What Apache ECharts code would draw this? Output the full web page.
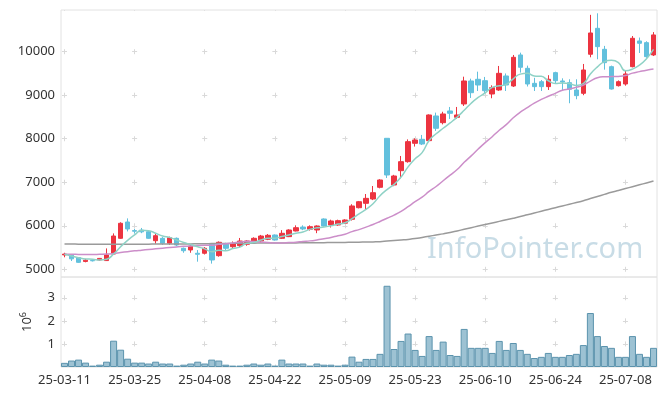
<!DOCTYPE html>
<html><head><meta charset="utf-8">
<script src="https://cdn.jsdelivr.net/npm/echarts@6/dist/echarts.min.js"></script>
<style>html,body{margin:0;padding:0;background:#fff}#c{width:665px;height:396px}</style>
</head><body><div id="c"></div>
<script>
const dates = [
'25-03-11','25-03-12','25-03-13','25-03-14','25-03-17','25-03-18','25-03-19','25-03-20','25-03-21','25-03-24',
'25-03-25','25-03-26','25-03-27','25-03-28','25-03-31','25-04-01','25-04-02','25-04-03','25-04-04','25-04-07',
'25-04-08','25-04-09','25-04-10','25-04-11','25-04-14','25-04-15','25-04-16','25-04-17','25-04-18','25-04-21',
'25-04-22','25-04-23','25-04-24','25-04-25','25-04-28','25-04-29','25-04-30','25-05-02','25-05-07','25-05-08',
'25-05-09','25-05-12','25-05-13','25-05-14','25-05-15','25-05-16','25-05-19','25-05-20','25-05-21','25-05-22',
'25-05-23','25-05-26','25-05-27','25-05-28','25-05-29','25-05-30','25-06-02','25-06-04','25-06-05','25-06-09',
'25-06-10','25-06-11','25-06-12','25-06-13','25-06-16','25-06-17','25-06-18','25-06-19','25-06-20','25-06-23',
'25-06-24','25-06-25','25-06-26','25-06-27','25-06-30','25-07-01','25-07-02','25-07-03','25-07-04','25-07-07',
'25-07-08','25-07-09','25-07-10','25-07-11','25-07-14'];

const opens = [
5330,5330,5270,5180,5205,5215,5200,5350,5712,6087,
5890,5900,5864,5657,5712,5600,5712,5483,5444,5368,
5368,5575,5313,5575,5519,5543,5575,5635,5650,5689,
5788,5712,5750,5880,5971,5919,5903,6156,6018,6018,
6060,6149,6415,6516,6615,6884,8010,6937,7266,7473,
7895,7987,7956,8523,8369,8638,8492,8799,9327,9366,
9334,9028,9120,9442,9212,9925,9618,9273,9311,9197,
9519,9327,9288,9120,9044,9941,10537,10055,9656,9219,
9258,9656,10247,10208,9925];

const closes = [
5350,5240,5160,5210,5195,5250,5330,5765,6057,5926,
5875,5860,5712,5772,5597,5726,5558,5427,5535,5345,
5483,5214,5621,5483,5581,5650,5650,5712,5765,5781,
5673,5827,5903,5956,5926,5979,5995,5995,6110,6117,
6133,6455,6553,6630,6760,7052,7167,7144,7473,7933,
7971,7879,8546,8240,8569,8584,8546,9327,9058,9235,
9104,9173,9503,9235,9871,9642,9258,9197,9197,9366,
9334,9304,9136,8990,9580,10430,10116,9748,9143,9311,
9488,10308,10193,9886,10385];

const lows = [
5276,5190,5150,5160,5180,5200,5195,5330,5700,5870,
5820,5830,5700,5588,5560,5560,5530,5380,5380,5175,
5340,5130,5290,5440,5490,5510,5540,5610,5610,5670,
5660,5700,5740,5870,5900,5890,5830,5980,5960,6000,
6040,6120,6400,6379,6590,6860,7098,6910,7090,7450,
7820,7855,7930,8180,8330,8455,8455,8753,8937,9097,
9050,8930,9100,9097,9190,9520,9200,9097,9097,9120,
9280,9120,8815,8907,9000,9871,9826,9587,9130,9200,
9219,9640,9970,9860,9900];

const highs = [
5380,5350,5280,5240,5220,5260,5480,5825,6080,6170,
5930,5950,5880,5818,5740,5750,5730,5500,5560,5443,
5510,5598,5640,5610,5640,5720,5670,5735,5790,5810,
5800,5900,5920,6010,6010,6010,6010,6170,6140,6140,
6150,6495,6570,6730,6914,7070,8010,7170,7604,7985,
8010,8087,8560,8600,8620,8730,8730,9426,9380,9541,
9420,9227,9672,9500,9925,9978,9680,9400,9350,9460,
9540,9388,9366,9366,9718,10847,10882,10133,9680,9340,
9580,10360,10325,10240,10450];

const ma5 = [
5345,5306,5267,5237,5231,5211,5229,5350,5519,5666,
5791,5897,5886,5829,5763,5733,5673,5616,5569,5518,
5470,5401,5440,5429,5476,5510,5597,5615,5672,5712,
5716,5752,5790,5828,5857,5918,5952,5970,6001,6039,
6070,6162,6274,6378,6506,6690,6832,6951,7119,7354,
7538,7680,7960,8114,8241,8364,8497,8653,8817,8950,
9054,9179,9215,9250,9377,9485,9502,9441,9433,9332,
9270,9280,9267,9226,9269,9488,9650,9773,9803,9750,
9561,9600,9689,9837,10052];

const ma20 = [
5345,5345,5342,5340,5340,5345,5350,5365,5385,5405,
5425,5440,5455,5470,5485,5500,5515,5528,5538,5545,
5551,5550,5573,5587,5606,5626,5642,5639,5625,5617,
5607,5606,5615,5624,5641,5653,5675,5704,5732,5771,
5804,5866,5912,5970,6029,6099,6174,6246,6331,6439,
6554,6657,6789,6903,7035,7165,7293,7459,7607,7763,
7911,8047,8195,8325,8481,8610,8715,8817,8903,8975,
9043,9114,9144,9181,9232,9324,9403,9424,9428,9432,
9451,9508,9542,9575,9601];

const maLong = [
5580,5579,5578,5577,5576,5576,5575,5575,5575,5575,
5576,5577,5578,5579,5580,5581,5582,5583,5584,5586,
5588,5590,5592,5594,5596,5598,5600,5601,5602,5603,
5604,5605,5606,5607,5608,5609,5610,5612,5614,5616,
5618,5620,5623,5626,5630,5635,5648,5661,5674,5687,
5705,5732,5760,5787,5814,5845,5882,5919,5956,5993,
6029,6065,6101,6137,6173,6211,6252,6293,6334,6375,
6415,6455,6495,6535,6577,6625,6673,6721,6769,6812,
6855,6898,6941,6985,7029];

const volume = [
0.18,0.28,0.32,0.19,0.06,0.10,0.23,1.14,0.75,0.36,
0.19,0.19,0.15,0.23,0.15,0.15,0.06,0.10,0.15,0.23,
0.15,0.32,0.28,0.10,0.06,0.06,0.10,0.15,0.10,0.15,
0.06,0.32,0.15,0.15,0.15,0.06,0.15,0.10,0.10,0.06,
0.10,0.45,0.23,0.35,0.35,0.57,3.52,0.78,1.13,1.45,
0.74,0.48,1.34,0.74,1.10,0.52,0.48,1.65,0.83,0.83,
0.83,0.61,1.13,0.74,1.04,0.74,0.57,0.39,0.44,0.61,
0.44,0.44,0.52,0.57,0.95,2.34,1.34,0.91,0.83,0.44,
0.44,1.34,0.57,0.44,0.83];

const candles = dates.map((d, i) => [opens[i], closes[i], lows[i], highs[i]]);

// layout / style constants
const FONT = 'Noto Sans';
const G_LEFT = 61, G_W = 596;
const P_TOP = 10, P_H = 267, P_MIN = 4823, P_MAX = 10958;
const V_TOP = 277, V_H = 90, V_MAX = 3.9;
const GRIDC = '#d9d9d9';
const CROSS = 5;
const band = G_W / dates.length;
const xPeriod = band * 10;
const xDashStart = band * 0.5 - CROSS / 2;
const xOffset = xPeriod - (xDashStart % xPeriod);
const pPeriod = 1000 * P_H / (P_MAX - P_MIN);
const pFirst = (P_MAX - 10000) * P_H / (P_MAX - P_MIN) - CROSS / 2;
const pOffset = pPeriod - (((pFirst % pPeriod) + pPeriod) % pPeriod);
const vPeriod = V_H / V_MAX;
const vFirst = (V_MAX - 3) * vPeriod - CROSS / 2;
const vOffset = vPeriod - (((vFirst % vPeriod) + vPeriod) % vPeriod);

const hSplit = {show: true, showMinLine: false, showMaxLine: false,
  lineStyle: {color: GRIDC, width: 1, type: [CROSS, xPeriod - CROSS], dashOffset: xOffset}};

const chart = echarts.init(document.getElementById('c'));
chart.setOption({
  animation: false,
  backgroundColor: '#ffffff',
  textStyle: {fontFamily: FONT},
  grid: [
    {left: G_LEFT, top: P_TOP, width: G_W, height: P_H, show: true, borderColor: '#e2e2e2', borderWidth: 1},
    {left: G_LEFT, top: V_TOP, width: G_W, height: V_H, show: true, borderColor: '#e2e2e2', borderWidth: 1}
  ],
  xAxis: [
    {type: 'category', gridIndex: 0, data: dates, boundaryGap: true,
     axisLine: {show: false}, axisTick: {show: false}, axisLabel: {show: false},
     splitLine: {show: true, interval: 9, alignWithLabel: true,
       lineStyle: {color: GRIDC, width: 1, type: [CROSS, pPeriod - CROSS], dashOffset: pOffset}}},
    {type: 'category', gridIndex: 1, data: dates, boundaryGap: true,
     axisLine: {show: false}, axisTick: {show: false},
     axisLabel: {interval: 9, color: '#333', fontSize: 13, fontFamily: FONT, margin: 7},
     splitLine: {show: true, interval: 9, alignWithLabel: true,
       lineStyle: {color: GRIDC, width: 1, type: [CROSS, vPeriod - CROSS], dashOffset: vOffset}}}
  ],
  yAxis: [
    {type: 'value', gridIndex: 0, min: P_MIN, max: P_MAX,
     axisLine: {show: false}, axisTick: {show: false},
     axisLabel: {showMinLabel: false, showMaxLabel: false, color: '#333', fontSize: 13, fontFamily: FONT, margin: 6,
       formatter: v => String(v)},
     splitLine: hSplit},
    {type: 'value', gridIndex: 1, min: 0, max: V_MAX, interval: 1,
     name: '{a|10}{b|6}', nameLocation: 'middle', nameGap: 26, nameRotate: 90,
     nameTextStyle: {rich: {
       a: {fontSize: 13, color: '#333', fontFamily: FONT, lineHeight: 16},
       b: {fontSize: 9, color: '#333', fontFamily: FONT, lineHeight: 10, verticalAlign: 'top'}}},
     axisLine: {show: false}, axisTick: {show: false},
     axisLabel: {showMinLabel: false, showMaxLabel: false, color: '#333', fontSize: 13, fontFamily: FONT, margin: 6,
       formatter: v => String(v)},
     splitLine: hSplit}
  ],
  graphic: [
    {type: 'text', left: 427, top: 235, z: 0, silent: true,
     style: {text: 'InfoPointer.com', font: '29px "Noto Sans"', fill: '#c8dce6'}}
  ],
  series: [
    {type: 'candlestick', xAxisIndex: 0, yAxisIndex: 0, data: candles, barWidth: 5,
     itemStyle: {color: '#ec3440', color0: '#62c0dd', borderColor: '#ec3440', borderColor0: '#62c0dd', borderWidth: 1}},
    {type: 'line', xAxisIndex: 0, yAxisIndex: 0, data: maLong, smooth: true, showSymbol: false,
     lineStyle: {color: '#9a9a9a', width: 1.5}},
    {type: 'line', xAxisIndex: 0, yAxisIndex: 0, data: ma20, smooth: true, showSymbol: false,
     lineStyle: {color: '#cc8ec9', width: 1.5}},
    {type: 'line', xAxisIndex: 0, yAxisIndex: 0, data: ma5, smooth: true, showSymbol: false,
     lineStyle: {color: '#8fd2c6', width: 1.5}},
    {type: 'bar', xAxisIndex: 1, yAxisIndex: 1, data: volume, barWidth: '100%',
     itemStyle: {color: '#9dc2d3', borderColor: '#5b93ad', borderWidth: 1}}
  ]
});
</script></body></html>
